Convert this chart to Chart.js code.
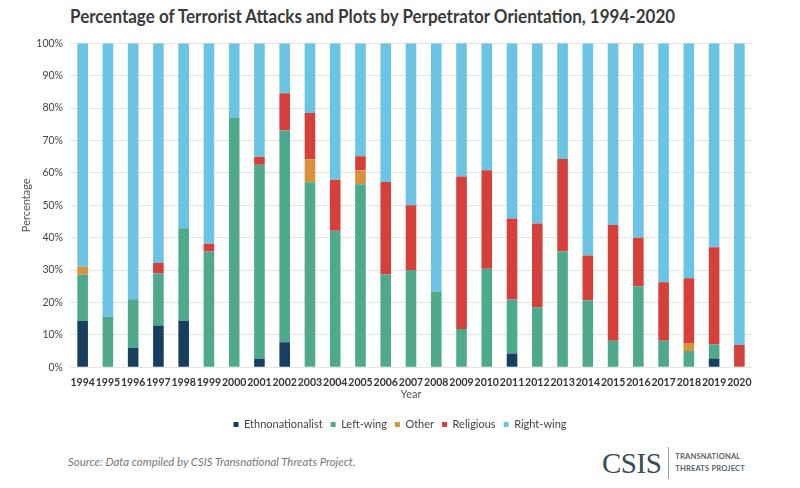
<!DOCTYPE html>
<html>
<head>
<meta charset="utf-8">
<script src="https://cdn.jsdelivr.net/npm/chart.js@4"></script>
<style>
  html, body { margin: 0; padding: 0; background: #fff; }
  body { width: 800px; height: 488px; position: relative; overflow: hidden; font-family: Lato, "Open Sans", sans-serif; }
  #title { position: absolute; left: 70px; top: 4px; font-size: 19px; font-weight: 700; color: #3a3a3a; white-space: nowrap; transform-origin: left top; }
  #wrap { position: absolute; left: 0; top: 30px; width: 800px; height: 410px; }
  #source { position: absolute; left: 68px; top: 454px; font-size: 12px; font-style: italic; color: #777; white-space: nowrap; transform-origin: left top; }
  #logo { position: absolute; left: 602px; top: 446px; height: 34px; display: flex; align-items: center; }
  #logo .csis { font-family: "Liberation Serif", "DejaVu Serif", serif; font-size: 29px; color: #3d4a57; letter-spacing: -0.5px; }
  #logo .bar { width: 1px; height: 32px; background: #9aa3ab; margin: 0 6px 0 7px; }
  #logo .ttp { font-size: 7.5px; line-height: 12px; color: #55606a; letter-spacing: 0.2px; font-weight: 700; }
</style>
</head>
<body>
<div id="title">Percentage of Terrorist Attacks and Plots by Perpetrator Orientation, 1994-2020</div>
<div id="wrap"><canvas id="chart"></canvas></div>
<div id="source">Source: Data compiled by CSIS Transnational Threats Project.</div>
<div id="logo"><span class="csis">CSIS</span><span class="bar"></span><span class="ttp">TRANSNATIONAL<br>THREATS PROJECT</span></div>
<script>
// Dữ liệu
const years = ['1994','1995','1996','1997','1998','1999','2000','2001','2002','2003','2004','2005','2006','2007',
  '2008','2009','2010','2011','2012','2013','2014','2015','2016','2017','2018','2019','2020'];
const ethnonationalist = [14.3, 0, 6.0, 12.9, 14.3, 0, 0, 2.5, 7.7, 0, 0, 0, 0, 0, 0, 0, 0, 4.2, 0, 0, 0, 0, 0, 0, 0, 2.7, 0];
const leftWing = [14.3, 15.6, 15.0, 16.1, 28.6, 35.7, 76.9, 60.0, 65.4, 57.1, 42.1, 56.5, 28.6, 30.0, 23.3, 11.8, 30.4, 16.7, 18.5, 35.7, 20.7, 8.2, 25.0, 8.2, 5.0, 4.3, 0];
const other = [2.4, 0, 0, 0, 0, 0, 0, 0, 0, 7.1, 0, 4.3, 0, 0, 0, 0, 0, 0, 0, 0, 0, 0, 0, 0, 2.5, 0, 0];
const religious = [0, 0, 0, 3.2, 0, 2.4, 0, 2.5, 11.5, 14.3, 15.8, 4.3, 28.6, 20.0, 0, 47.1, 30.4, 25.0, 25.9, 28.6, 13.8, 35.7, 15.0, 18.0, 20.0, 30.0, 6.9];
const rightWing = [69.0, 84.4, 79.0, 67.8, 57.1, 61.9, 23.1, 35.0, 15.4, 21.5, 42.1, 34.9, 42.8, 50.0, 76.7, 41.1, 39.2, 54.1, 55.6, 35.7, 65.5, 56.1, 60.0, 73.8, 72.5, 63.0, 93.1];
const yTicks = [0, 10, 20, 30, 40, 50, 60, 70, 80, 90, 100];

// Co giãn chữ cho khớp chiều rộng
function fitWidth(id, w) {
  const el = document.getElementById(id);
  el.style.transform = 'scaleX(' + (w / el.offsetWidth) + ')';
}
fitWidth('title', 605);
fitWidth('source', 288);

function ds(label, data, color) {
  return { label: label, data: data, backgroundColor: color, borderWidth: 0, barPercentage: 0.42, categoryPercentage: 1 };
}

new Chart(document.getElementById('chart'), {
  type: 'bar',
  data: {
    labels: years,
    datasets: [
      ds('Ethnonationalist', ethnonationalist, '#173f5f'),
      ds('Left-wing', leftWing, '#4fa98d'),
      ds('Other', other, '#d9913c'),
      ds('Religious', religious, '#d6403a'),
      ds('Right-wing', rightWing, '#6bc4e4')
    ]
  },
  options: {
    responsive: true,
    maintainAspectRatio: false,
    animation: false,
    layout: { padding: { top: 8, right: 20, left: 20, bottom: 0 } },
    plugins: {
      legend: {
        position: 'bottom',
        labels: {
          boxWidth: 5, boxHeight: 5, padding: 8,
          color: '#444', font: { family: 'Lato', size: 11 }
        }
      },
      tooltip: { enabled: false }
    },
    scales: {
      x: {
        stacked: true,
        grid: { display: false },
        border: { display: false },
        ticks: { autoSkip: false, maxRotation: 0, color: '#333', padding: 1, font: { family: 'Lato', size: 10.5, weight: '700' } },
        title: { display: true, text: 'Year', color: '#555', padding: { top: -2, bottom: 10 }, font: { family: 'Lato', size: 11 } }
      },
      y: {
        stacked: true,
        min: 0, max: 100,
        afterBuildTicks: function (axis) { axis.ticks = yTicks.map(v => ({ value: v })); },
        afterFit: function (axis) { axis.width = 50; },
        grid: { color: '#e4e4e4', drawTicks: false },
        border: { display: false },
        ticks: { color: '#444', padding: 7, callback: v => v + '%', font: { family: 'Lato', size: 10.5 } },
        title: { display: true, text: 'Percentage', color: '#555', padding: { top: 0, bottom: 0 }, font: { family: 'Lato', size: 11 } }
      },
      // trục trống bên phải để chừa lề
      yRight: {
        position: 'right',
        grid: { display: false },
        border: { display: false },
        ticks: { display: false },
        afterFit: function (axis) { axis.width = 28; }
      }
    }
  }
});
</script>
</body>
</html>
